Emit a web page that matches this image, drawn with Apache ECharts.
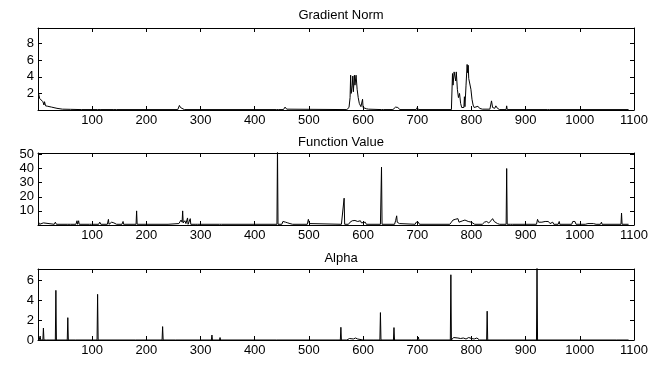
<!DOCTYPE html>
<html>
<head>
<meta charset="utf-8">
<script src="https://cdn.jsdelivr.net/npm/echarts@6/dist/echarts.min.js"></script>
<style>
html,body{margin:0;padding:0;background:#fff;}
#c{width:656px;height:367px;}
</style>
</head>
<body>
<div id="c"></div>
<script>
// ---------- data ----------
var titles = ['Gradient Norm', 'Function Value', 'Alpha'];
var xTicks = [100, 200, 300, 400, 500, 600, 700, 800, 900, 1000, 1100];
var gradYTicks = [2, 4, 6, 8];
var funcYTicks = [10, 20, 30, 40, 50];
var alphaYTicks = [0, 2, 4, 6];

var gradX = [1,3,6,9,11,12,14,18,25,35,45,60,80,110,113,116,140,142,145,258,261,263,266,270,300,440,442,444,453,456,459,462,570,574,576,577,578,580,581,582,584,585,587,589,591,593,596,598,599,600,602,606,610,634,636,638,655,660,664,668,698,700,702,763,765,766,768,770,771,772,774,776,778,780,782,784,786,787,788,790,792,793,794,795,797,799,801,803,805,808,812,815,820,834,837,839,843,845,848,852,864,865,866,940,942,944,1090];
var gradY = [2.0,1.4,1.2,1.0,0.6,1.0,0.5,0.45,0.35,0.2,0.1,0.08,0.05,0.05,0.2,0.05,0.05,0.15,0.05,0.05,0.55,0.3,0.1,0.05,0.05,0.05,0.15,0.05,0.05,0.35,0.1,0.05,0.05,0.3,1.5,4.2,2.0,3.0,4.1,2.2,4.2,3.0,4.2,2.5,1.5,0.8,0.4,0.2,1.3,0.3,0.2,0.15,0.1,0.05,0.25,0.05,0.05,0.35,0.3,0.05,0.05,0.3,0.05,0.05,4.4,3.0,4.6,4.8,3.5,4.6,2.5,1.5,2.0,0.8,0.3,0.2,0.3,1.6,0.4,3.0,5.5,4.5,5.4,3.8,4.0,2.5,1.3,0.6,0.3,0.2,0.45,0.2,0.1,0.1,1.1,0.3,0.2,0.5,0.2,0.05,0.05,0.5,0.05,0.05,0.1,0.05,0.05];

var funcX = [1,3,10,12,30,32,34,55,58,60,70,72,73,75,76,95,97,99,112,114,116,128,130,131,136,138,140,143,145,155,157,158,181,182,183,240,260,262,264,266,267,268,271,273,276,277,281,282,290,292,294,335,337,339,441,442,443,450,452,455,457,459,461,463,465,470,497,499,501,503,560,565,566,573,576,580,585,590,593,595,597,600,604,606,632,634,635,658,660,662,663,665,667,670,696,698,700,702,704,760,763,766,770,772,775,777,780,784,788,791,794,797,800,803,806,820,824,828,832,836,839,842,845,848,852,864,865,866,872,874,876,920,922,924,927,930,933,936,939,942,945,950,952,960,962,963,985,987,989,991,993,1010,1015,1025,1030,1038,1040,1041,1076,1077,1078,1090];
var funcY = [2,0.5,1.5,0.5,0.5,2,0.5,0.5,1.2,0.5,0.5,3,0.5,3,0.5,0.5,1.5,0.5,0.5,2,0.5,0.5,4,0.5,2,3,1.5,2.5,0.5,0.5,2.5,0.5,0.5,10,0.5,0.5,1,2,3.5,2,10,1.5,3,1,5,0.5,4.5,0.5,0.5,1.5,0.5,0.5,1.2,0.5,0.5,55,0.5,0.5,2.5,3,2,3,1.5,2.8,1,0.5,0.5,4,1,0.5,0.5,19,0.5,0.5,2,3,3.2,2.5,2,3,1.5,1,2,0.5,0.5,41,0.5,0.5,3,6.5,2,3,1,0.5,0.5,2,3,2,0.5,0.5,2,3.5,4,3,4.5,2,1,3,3.5,4,2.5,3,2,1,0.5,0.5,2,2.5,1.5,3,4.5,2.5,3,1,0.5,0.5,40,0.5,0.5,1.5,0.5,0.5,4,2,3,2,3,2.5,1.5,2.5,1,2,0.5,0.5,2.5,0.5,0.5,2.5,1.5,2.5,0.5,0.5,1,1,0.5,0.5,2,0.5,0.5,8.5,0.5,0.5];

var alphaX = [1,2,4,5,9,10,11,13,14,16,22,23,24,32,33,34,54,55,56,69,70,71,109,110,111,180,181,182,229,230,231,254,255,256,320,321,322,335,336,337,440,441,442,558,559,560,570,572,575,578,582,586,590,600,620,622,623,631,632,633,656,657,658,690,692,693,700,702,703,761,762,763,765,767,770,775,780,785,790,795,800,805,810,815,828,829,830,862,864,865,920,921,922,998,1000,1001,1068,1070,1071,1090];
var alphaY = [0.3,0,0.4,0,0,1.2,0,0,0.2,0,0,0.2,0,0,5.0,0,0,2.25,0,0,0.2,0,0,4.6,0,0,0.2,0,0,1.35,0,0,0.2,0,0,0.5,0,0,0.25,0,0,0.1,0,0,1.28,0,0,0.2,0.15,0.2,0.1,0.2,0.1,0,0,0.2,0,0,2.76,0,0,1.25,0,0,0.2,0,0,0.3,0,0,6.57,0,0,0.25,0.1,0.2,0.15,0.2,0.1,0.25,0.15,0.1,0.2,0,0,2.9,0,0,0.2,0,0,7.5,0,0,0.1,0,0,0.15,0,0];

// ---------- layout ----------
var FONT = "'Liberation Sans', Arial, Helvetica, sans-serif";
var grids = [
  {left: 38, top: 28, width: 596, height: 82},
  {left: 38, top: 153, width: 596, height: 72},
  {left: 38, top: 269, width: 596, height: 71}
];
var yCfg = [
  {max: 9.9, interval: 2, ticks: gradYTicks},
  {max: 51, interval: 10, ticks: funcYTicks},
  {max: 7.15, interval: 2, ticks: alphaYTicks}
];
var titleTops = [4, 131, 247];
var series = [[gradX, gradY], [funcX, funcY], [alphaX, alphaY]];

function pairs(xs, ys) { return xs.map(function (x, i) { return [x, ys[i]]; }); }

function tickStyle() { return {show: true, inside: true, length: 4, lineStyle: {color: '#000', width: 1}}; }
function axisLine() { return {show: true, onZero: false, lineStyle: {color: '#000', width: 1}}; }
var labelStyle = {color: '#000', fontSize: 13, fontFamily: FONT};

var option = {
  animation: false,
  backgroundColor: '#fff',
  title: [], grid: [], xAxis: [], yAxis: [], series: []
};

for (var i = 0; i < 3; i++) {
  option.title.push({
    text: titles[i], left: 336, top: titleTops[i], textAlign: 'center',
    textStyle: {color: '#000', fontSize: 13, fontWeight: 'normal', fontFamily: FONT}
  });
  option.grid.push(Object.assign({show: false}, grids[i]));
  option.xAxis.push({
    type: 'value', gridIndex: i, min: 0, max: 1100, interval: 100, position: 'bottom',
    axisLine: axisLine(), axisTick: tickStyle(), splitLine: {show: false},
    axisLabel: Object.assign({margin: 4, formatter: function (v) { return xTicks.indexOf(v) >= 0 ? String(v) : ''; }}, labelStyle)
  });
  option.xAxis.push({
    type: 'value', gridIndex: i, min: 0, max: 1100, interval: 100, position: 'top',
    axisLine: axisLine(), axisTick: tickStyle(), splitLine: {show: false}, axisLabel: {show: false}
  });
  (function (cfg) {
    option.yAxis.push({
      type: 'value', gridIndex: i, min: 0, max: cfg.max, interval: cfg.interval, position: 'left',
      axisLine: axisLine(), axisTick: tickStyle(), splitLine: {show: false},
      axisLabel: Object.assign({margin: 4, formatter: function (v) { return cfg.ticks.indexOf(v) >= 0 ? String(v) : ''; }}, labelStyle)
    });
    option.yAxis.push({
      type: 'value', gridIndex: i, min: 0, max: cfg.max, interval: cfg.interval, position: 'right',
      axisLine: axisLine(), axisTick: tickStyle(), splitLine: {show: false}, axisLabel: {show: false}
    });
  })(yCfg[i]);
  option.series.push({
    type: 'line', xAxisIndex: 2 * i, yAxisIndex: 2 * i,
    data: pairs(series[i][0], series[i][1]),
    showSymbol: false, symbol: 'none', clip: true, silent: true,
    lineStyle: {color: '#000', width: 1}
  });
}

var chart = echarts.init(document.getElementById('c'), null, {renderer: 'canvas'});
chart.setOption(option);
</script>
</body>
</html>
